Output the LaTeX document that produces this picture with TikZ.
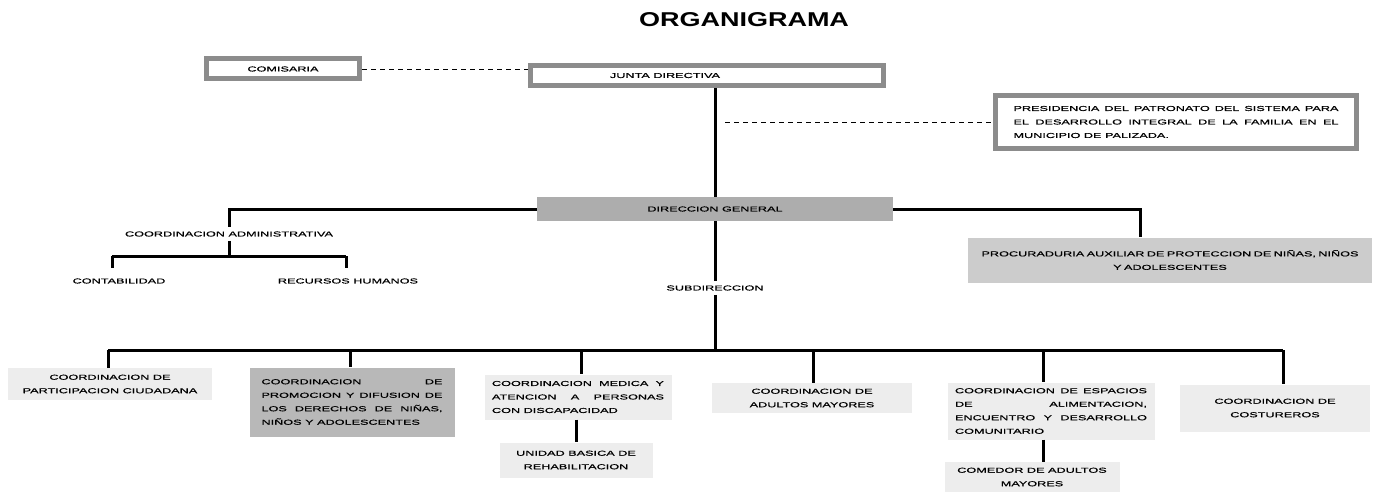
\documentclass[tikz,border=0pt]{standalone}
\usepackage{fontspec}
\setmainfont{Liberation Sans}
\newfontfamily\orgfont[FakeStretch=1.76, FakeBold=0.6]{Liberation Sans}
\newfontfamily\titlefont[FakeStretch=1.35]{Liberation Sans}

\tikzset{
    orgtext/.style={font=\orgfont\fontsize{7.2}{13.5}\selectfont, inner sep=0pt},
    etiqueta/.style={orgtext, inner sep=4pt},
    framebox/.style={orgtext, draw=black!45, line width=5pt, fill=white},
    shadebox/.style={orgtext, fill=black!#1},
    conn/.style={line width=3pt},
    dashconn/.style={line width=0.9pt, dash pattern=on 5pt off 4pt}
}

\begin{document}
\begin{tikzpicture}[x=1pt, y=-1pt]

    \useasboundingbox (0,0) rectangle (1379,495);

    \node [font=\titlefont\bfseries\fontsize{20}{24}\selectfont] (titulo) at (744,20) {ORGANIGRAMA};

    \node [framebox, minimum width=153pt, minimum height=20pt] (comisaria) at (283,69) {COMISARIA};
    \node [framebox, minimum width=353pt, minimum height=20pt] (junta) at (707,75.5) {};
    \node [orgtext] (juntatxt) at (665,75.5) {JUNTA DIRECTIVA};
    \node [framebox, text width=325pt, minimum width=361pt, minimum height=53pt, align=justify] (presidencia) at (1176,122) {PRESIDENCIA DEL PATRONATO DEL SISTEMA PARA\linebreak EL DESARROLLO INTEGRAL DE LA FAMILIA EN EL\linebreak MUNICIPIO DE PALIZADA.};

    \node [shadebox=32, minimum width=356pt, minimum height=24pt] (direccion) at (715,209) {DIRECCION GENERAL};

    \node [etiqueta] (admin) at (229,234) {COORDINACION ADMINISTRATIVA};
    \node [etiqueta] (contab) at (119,281) {CONTABILIDAD};
    \node [etiqueta] (rrhh) at (348,281) {RECURSOS HUMANOS};

    \node [shadebox=20, minimum width=404pt, minimum height=45pt, text width=400pt, align=center] (procuraduria) at (1170,260) {PROCURADURIA AUXILIAR DE PROTECCION DE NIÑAS, NIÑOS\\ Y ADOLESCENTES};

    \node [etiqueta] (subdir) at (715,288) {SUBDIRECCION};

    % coordinaciones
    \node [shadebox=7, minimum width=204pt, minimum height=32pt, align=center] (participacion) at (110,384) {COORDINACION DE\\ PARTICIPACION CIUDADANA};
    \node [shadebox=28, minimum width=205pt, minimum height=69pt, text width=181pt, align=justify] (promocion) at (352,402) {COORDINACION DE\linebreak PROMOCION Y DIFUSION DE\linebreak LOS DERECHOS DE NIÑAS,\linebreak NIÑOS Y ADOLESCENTES};
    \node [shadebox=7, minimum width=187pt, minimum height=45pt, text width=172pt, align=justify] (medica) at (578,397) {COORDINACION MEDICA Y\linebreak ATENCION A PERSONAS\linebreak CON DISCAPACIDAD};
    \node [shadebox=7, minimum width=153pt, minimum height=35pt, align=center] (unidad) at (576,460) {UNIDAD BASICA DE\\ REHABILITACION};
    \node [shadebox=7, minimum width=200pt, minimum height=30pt, align=center] (adultos) at (812,398) {COORDINACION DE\\ ADULTOS MAYORES};
    \node [shadebox=7, minimum width=207pt, minimum height=57pt, text width=192pt, align=justify] (espacios) at (1051,411) {COORDINACION DE ESPACIOS\linebreak DE ALIMENTACION,\linebreak ENCUENTRO Y DESARROLLO\linebreak COMUNITARIO};
    \node [shadebox=7, minimum width=175pt, minimum height=30pt, align=center] (comedor) at (1032,477) {COMEDOR DE ADULTOS\\ MAYORES};
    \node [shadebox=7, minimum width=190pt, minimum height=47pt, align=center] (costureros) at (1275,408) {COORDINACION DE\\ COSTUREROS};

    \draw [dashconn] (comisaria.east) -- (comisaria.east -| junta.west);
    \draw [conn] (direccion.north) -- (direccion.north |- junta.south);
    \draw [dashconn] ([xshift=10pt]direccion.north |- presidencia.west) -- (presidencia.west);

    \draw [conn] (direccion.west) -| (admin.north);
    \coordinate (admbus) at (229,256);
    \draw [conn] (admin.south) -- (admbus);
    \draw [conn] ([xshift=-7pt]contab.north |- admbus) -- ([xshift=-2pt]rrhh.north |- admbus);
    \draw [conn, shorten >=6pt] ([xshift=-7pt]contab.north |- admbus) -- ([xshift=-7pt]contab.north);
    \draw [conn, shorten >=6pt] ([xshift=-2pt]rrhh.north |- admbus) -- ([xshift=-2pt]rrhh.north);

    \draw [conn] (direccion.east) -| ([xshift=-30pt]procuraduria.north);

    \draw [conn] (direccion.south) -- (subdir.north);
    \coordinate (bus) at (715,350);
    \draw [conn] (subdir.south) -- (bus);
    \draw [conn] ([xshift=-2pt]participacion.north |- bus) -- ([xshift=8pt]costureros.north |- bus);

    \draw [conn] ([xshift=-2pt]participacion.north |- bus) -- ([xshift=-2pt]participacion.north);
    \draw [conn] ([xshift=-2pt]promocion.north |- bus) -- ([xshift=-2pt]promocion.north);
    \draw [conn] ([xshift=3pt]medica.north |- bus) -- ([xshift=3pt]medica.north);
    \draw [conn] ([xshift=1pt]adultos.north |- bus) -- ([xshift=1pt]adultos.north);
    \draw [conn] ([xshift=-8pt]espacios.north |- bus) -- ([xshift=-8pt]espacios.north);
    \draw [conn] ([xshift=8pt]costureros.north |- bus) -- ([xshift=8pt]costureros.north);

    \draw [conn] (unidad.north |- medica.south) -- (unidad.north);
    \draw [conn] ([xshift=-8pt]espacios.south) -- ([xshift=-8pt]espacios.south |- comedor.north);

\end{tikzpicture}
\end{document}
